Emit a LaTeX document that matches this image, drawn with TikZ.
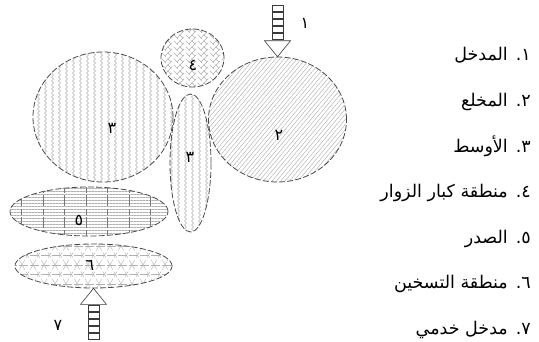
\documentclass[tikz,border=0pt]{standalone}
\usepackage{fontspec}
\newfontfamily\arabicfont[Script=Arabic]{DejaVu Sans}
\TeXXeTstate=1
\usepackage{xcolor}
\definecolor{cEdge}{HTML}{4A4A4A}
\definecolor{cHatch}{HTML}{B0B0B0}
\definecolor{cArrow}{HTML}{3A3A3A}
\usepackage{tikz}
\usetikzlibrary{shapes.geometric,patterns,patterns.meta}

% fill patterns for the zones
\tikzdeclarepattern{
  name=zigzag, type=uncolored,
  bottom left={(-.5pt,-.5pt)}, top right={(7.5pt,4.5pt)},
  tile size={(7pt,4pt)},
  code={\draw[line width=.45pt] (2.5pt,0pt) -- (4.5pt,2pt) -- (2.5pt,4pt);}
}
\tikzdeclarepattern{
  name=herringbone, type=uncolored,
  bottom left={(-.5pt,-.5pt)}, top right={(12.5pt,6.5pt)},
  tile size={(12pt,6pt)},
  code={
    \draw[line width=.45pt] (0pt,0pt) -- (6pt,6pt) -- (12pt,0pt);
    \draw[line width=.45pt] (3pt,3pt) -- (0pt,6pt);
    \draw[line width=.45pt] (9pt,3pt) -- (12pt,6pt);
  }
}
\tikzdeclarepattern{
  name=trigrid, type=uncolored,
  bottom left={(-.5pt,-.5pt)}, top right={(11.5pt,20.4pt)},
  tile size={(11pt,19.05pt)},
  code={
    \draw[line width=.4pt] (0pt,0pt) -- (11pt,0pt);
    \draw[line width=.4pt] (0pt,9.526pt) -- (11pt,9.526pt);
    \draw[line width=.4pt] (0pt,0pt) -- (11pt,19.05pt);
    \draw[line width=.4pt] (11pt,0pt) -- (0pt,19.05pt);
  }
}

\tikzset{
  zone/.style={ellipse,draw=cEdge,line width=.8pt,dash pattern=on 6pt off 2.2pt,
    inner sep=0pt,pattern color=cHatch},
  zone-wave/.style={zone,pattern=zigzag},
  zone-brick/.style={zone,pattern=herringbone},
  zone-stripe/.style={zone,pattern={Lines[angle=50,distance=3.3pt,line width=.45pt]}},
  zone-grid/.style={zone,pattern={Lines[angle=0,distance=3pt,line width=.4pt]},
    postaction={pattern={Lines[angle=90,distance=21.5pt,line width=.5pt]},pattern color=cEdge!75}},
  zone-tri/.style={zone,pattern=trigrid},
  num/.style={font=\arabicfont\fontsize{16}{16}\selectfont,inner sep=0pt},
  legend/.style={anchor=east,inner sep=0pt,text height=14pt,text depth=6pt,
    font=\arabicfont\fontsize{17.5}{20}\selectfont},
  arrow-body/.style={draw=cArrow,line width=.6pt,fill=white},
  entry/.pic={
    \draw[arrow-body] (0,0) -- (-13,16) -- (13,16) -- cycle;
    \foreach \k in {0,...,4}
      \draw[arrow-body] (-5.5,17+7*\k) rectangle (5.5,23+7*\k);
  },
}

\begin{document}
\begin{tikzpicture}[x=1pt,y=1pt]
  \useasboundingbox (0,0) rectangle (539,341);
  \node[zone-wave,minimum width=140pt,minimum height=130pt] (hall) at (103,224) {};
  \node[zone-wave,minimum width=41pt,minimum height=138pt] (middle) at (190.5,178) {};
  \node[zone-stripe,minimum width=138pt,minimum height=125pt] (dressing) at (277.5,221.5) {};
  \node[zone-brick,minimum width=63pt,minimum height=58pt] (vip) at (192.5,283) {};
  \node[zone-grid,minimum width=158pt,minimum height=49pt] (sadr) at (89,129.5) {};
  \node[zone-tri,minimum width=157pt,minimum height=44pt] (warm) at (93.5,75) {};

  \node[num] (hall-n) at (112,213) {٣};
  \node[num] (middle-n) at (190,184) {٣};
  \node[num] (dressing-n) at (279,206) {٢};
  \node[num] (vip-n) at (193,276) {٤};
  \node[num] (sadr-n) at (79,121) {٥};
  \node[num] (warm-n) at (90,76) {٦};

  % entrances
  \pic at (dressing.north) {entry};
  \pic[rotate=180] at (warm.south) {entry};
  \node[num] (in-n) at (305,318) {١};
  \node[num] (svc-n) at (58,16) {٧};

  \node[legend] (key1) at (531,284) {\beginR ١.\hspace{8pt}المدخل\endR};
  \node[legend] (key2) at (531,238.5) {\beginR ٢.\hspace{8pt}المخلع\endR};
  \node[legend] (key3) at (531,193) {\beginR ٣.\hspace{8pt}الأوسط\endR};
  \node[legend] (key4) at (531,147.5) {\beginR ٤.\hspace{8pt}منطقة كبار الزوار\endR};
  \node[legend] (key5) at (531,102) {\beginR ٥.\hspace{8pt}الصدر\endR};
  \node[legend] (key6) at (531,56.5) {\beginR ٦.\hspace{8pt}منطقة التسخين\endR};
  \node[legend] (key7) at (531,11) {\beginR ٧.\hspace{8pt}مدخل خدمي\endR};
\end{tikzpicture}
\end{document}
